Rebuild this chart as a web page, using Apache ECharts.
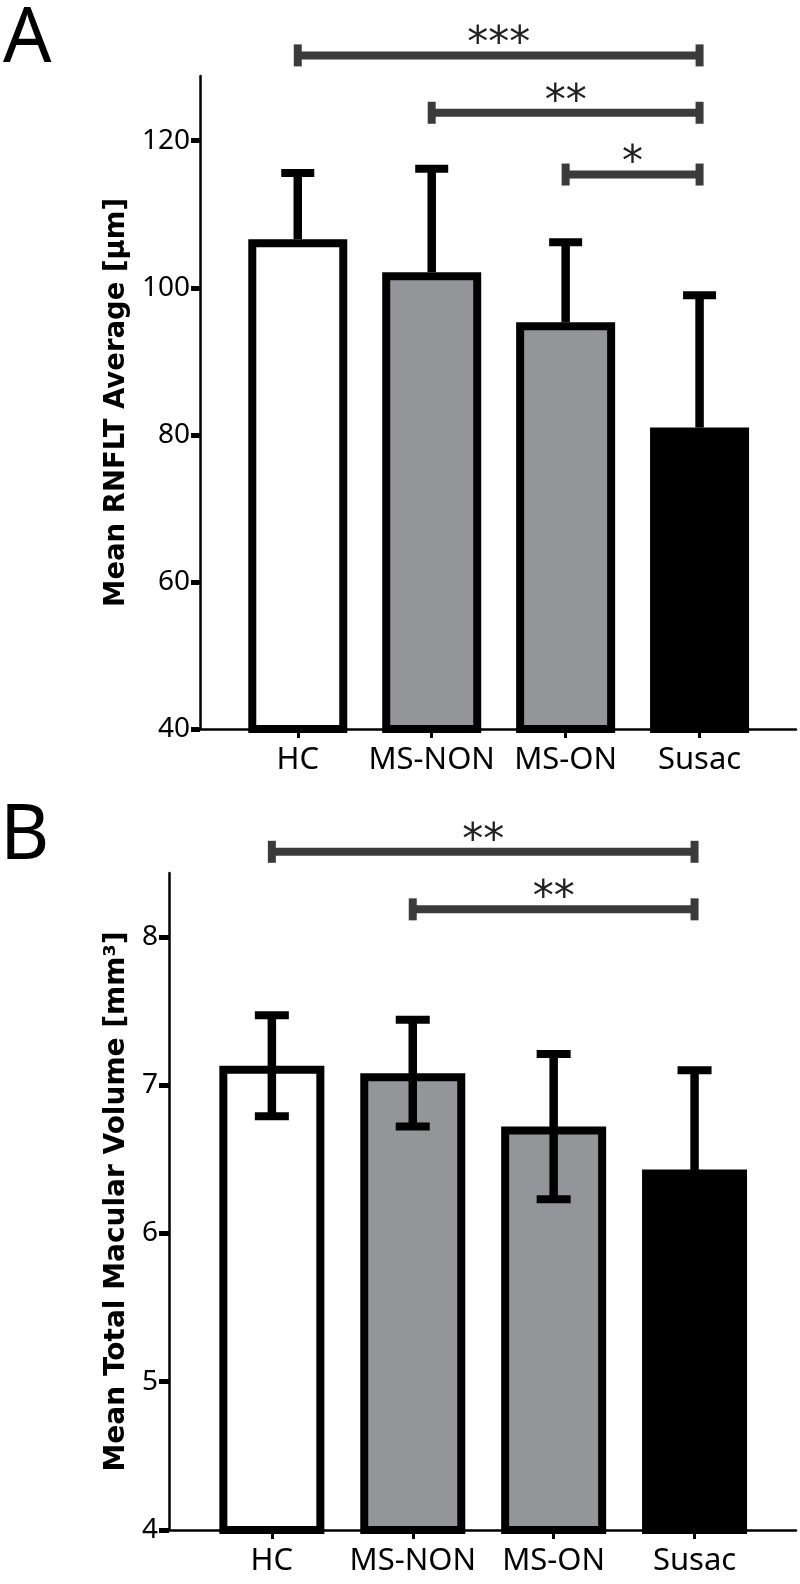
<!DOCTYPE html>
<html><head><meta charset="utf-8">
<script src="https://cdn.jsdelivr.net/npm/echarts@6/dist/echarts.min.js"></script>
<style>html,body{margin:0;padding:0;background:#fff}#c{width:800px;height:1584px}</style>
</head><body><div id="c"></div>
<script>
// ---- data ----
const categories = ['HC', 'MS-NON', 'MS-ON', 'Susac'];
const categoryPos = [0, 1, 2, 3];

const rnfltMean = [106.6, 102.1, 95.3, 81.0];
const rnfltErr  = [9.0, 14.1, 10.9, 18.0];
const rnfltTicks = [40, 60, 80, 100, 120];

const volMean = [7.13, 7.08, 6.72, 6.43];
const volErr  = [0.34, 0.36, 0.49, 0.67];
const volTicks = [4, 5, 6, 7, 8];

const rnfltSigFrom  = [0, 1, 2];
const rnfltSigTo    = [3, 3, 3];
const rnfltSigLevel = [131.6, 123.8, 115.4];
const rnfltSigLabel = ['***', '**', '*'];

const volSigFrom  = [0, 1];
const volSigTo    = [3, 3];
const volSigLevel = [8.573, 8.185];
const volSigLabel = ['**', '**'];

// ---- styles ----
const fills = ['#ffffff', '#939598', '#939598', '#000000'];
const tickFont = '"Noto Sans", sans-serif';
const labelFont = '"Noto Sans", sans-serif';

function barData(means) {
  return means.map((m, i) => ({ value: [categoryPos[i], m], itemStyle: { color: fills[i] } }));
}
function errData(means, errs) {
  return means.map((m, i) => [categoryPos[i], m, errs[i]]);
}
function errRender(both, capW) {
  return function (params, api) {
    const x = api.value(0), m = api.value(1), e = api.value(2);
    const top = api.coord([x, m + e]);
    const bot = api.coord([x, both ? m - e : m]);
    const stem = { stroke: '#000', lineWidth: 8.5, fill: null };
    const cap = { stroke: '#000', lineWidth: 8, fill: null };
    const ch = [
      { type: 'line', shape: { x1: top[0], y1: top[1], x2: bot[0], y2: bot[1] }, style: stem },
      { type: 'line', shape: { x1: top[0] - capW / 2, y1: top[1], x2: top[0] + capW / 2, y2: top[1] }, style: cap }
    ];
    if (both) ch.push({ type: 'line', shape: { x1: bot[0] - capW / 2, y1: bot[1], x2: bot[0] + capW / 2, y2: bot[1] }, style: cap });
    return { type: 'group', children: ch };
  };
}
function sigData(from, to, level) {
  return from.map((f, i) => [f, to[i], level[i]]);
}
function sigRender(labels) {
  return function (params, api) {
    const a = api.coord([api.value(0), api.value(2)]);
    const b = api.coord([api.value(1), api.value(2)]);
    const st = { stroke: '#3b3b3b', lineWidth: 8, fill: null };
    return {
      type: 'group', children: [
        { type: 'line', shape: { x1: a[0], y1: a[1], x2: b[0], y2: b[1] }, style: st },
        { type: 'line', shape: { x1: a[0], y1: a[1] - 11, x2: a[0], y2: a[1] + 11 }, style: st },
        { type: 'line', shape: { x1: b[0], y1: b[1] - 11, x2: b[0], y2: b[1] + 11 }, style: st },
        { type: 'text', x: (a[0] + b[0]) / 2, y: a[1] - 10,
          style: { text: labels[params.dataIndex], fontSize: 42, fontFamily: '"DejaVu Sans", sans-serif',
                   fill: '#222', align: 'center', verticalAlign: 'middle' } }
      ]
    };
  };
}
function xAxisCfg(gi) {
  return {
    type: 'value', gridIndex: gi, min: -0.73, max: 3.72,
    axisLine: { show: true, onZero: false, lineStyle: { color: '#000', width: 2.5 } },
    axisTick: { show: true, customValues: categoryPos, length: 9, lineStyle: { color: '#000', width: 3 } },
    axisLabel: { customValues: categoryPos, formatter: v => categories[Math.round(v)],
                 fontFamily: labelFont, fontSize: 31, color: '#000', margin: 16 },
    splitLine: { show: false }
  };
}
function yAxisCfg(gi, min, max, ticks, name, gap, tickLen, margin, nameSize) {
  return {
    type: 'value', gridIndex: gi, min: min, max: max,
    name: name, nameLocation: 'middle', nameGap: gap,
    nameTextStyle: { fontFamily: '"DejaVu Sans", sans-serif', fontWeight: 'bold', fontSize: nameSize, color: '#000' },
    axisLine: { show: true, onZero: false, lineStyle: { color: '#000', width: 2.5 } },
    axisTick: { show: true, customValues: ticks, length: tickLen, lineStyle: { color: '#000', width: 5 } },
    axisLabel: { customValues: ticks, fontFamily: tickFont, fontSize: 28, color: '#000', margin: margin },
    splitLine: { show: false }
  };
}

const chart = echarts.init(document.getElementById('c'), null, { renderer: 'canvas' });
chart.setOption({
  animation: false,
  backgroundColor: '#fff',
  grid: [
    { left: 200, right: 4, top: 76, height: 653 },
    { left: 169, right: 4, top: 873, height: 657 }
  ],
  xAxis: [xAxisCfg(0), xAxisCfg(1)],
  yAxis: [
    yAxisCfg(0, 40, 128.8, rnfltTicks, 'Mean RNFLT Average [µm]', 66, 9, 10, 27.5),
    yAxisCfg(1, 4, 8.43, volTicks, 'Mean Total Macular Volume [mm³]', 36, 10, 11, 28)
  ],
  graphic: [
    { type: 'text', left: 3, top: 2, style: { text: 'A', fontSize: 76, fontFamily: labelFont, fill: '#000' } },
    { type: 'text', left: 0, top: 799, style: { text: 'B', fontSize: 76, fontFamily: labelFont, fill: '#000' } }
  ],
  series: [
    { type: 'bar', xAxisIndex: 0, yAxisIndex: 0, barWidth: 99, data: barData(rnfltMean),
      itemStyle: { borderColor: '#000', borderWidth: 8 } },
    { type: 'custom', xAxisIndex: 0, yAxisIndex: 0, renderItem: errRender(false, 33), data: errData(rnfltMean, rnfltErr), z: 5 },
    { type: 'custom', xAxisIndex: 0, yAxisIndex: 0, renderItem: sigRender(rnfltSigLabel), data: sigData(rnfltSigFrom, rnfltSigTo, rnfltSigLevel), clip: false, z: 5 },
    { type: 'bar', xAxisIndex: 1, yAxisIndex: 1, barWidth: 105, data: barData(volMean),
      itemStyle: { borderColor: '#000', borderWidth: 8 } },
    { type: 'custom', xAxisIndex: 1, yAxisIndex: 1, renderItem: errRender(true, 34), data: errData(volMean, volErr), z: 5 },
    { type: 'custom', xAxisIndex: 1, yAxisIndex: 1, renderItem: sigRender(volSigLabel), data: sigData(volSigFrom, volSigTo, volSigLevel), clip: false, z: 5 }
  ]
});
</script></body></html>
